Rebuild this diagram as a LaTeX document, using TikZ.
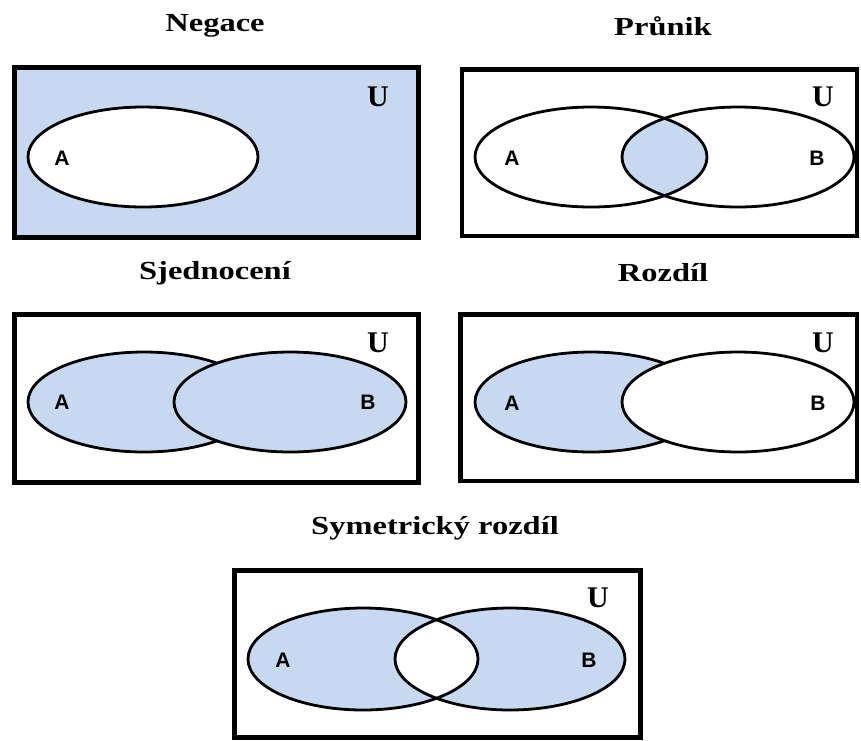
\documentclass[tikz,border=0pt]{standalone}
\usepackage{fontspec}
\setmainfont{Liberation Serif}
\newfontfamily\lblfont{Liberation Sans}
\definecolor{setblue}{RGB}{198,217,240}
\def\ttl#1{\scalebox{1.25}[1]{#1}}

\begin{document}
\begin{tikzpicture}[x=1pt, y=-1pt,
		frame/.style={line width=4.5pt},
		venn/.style={line width=2.8pt},
		title/.style={font=\fontsize{26}{30}\selectfont\bfseries, inner sep=0pt},
		unilbl/.style={font=\fontsize{30}{33}\selectfont\bfseries, inner sep=0pt},
		setlbl/.style={font=\lblfont\fontsize{21}{24}\selectfont\bfseries, inner sep=0pt}]
		%%%%% START %%%%%
		\useasboundingbox (0, 0) rectangle (861, 740);
		
		%%% Negace
		\node[title] (tNeg) at (215, 26) {\ttl{Negace}};
		\draw[frame, fill=setblue] (14.5, 67.5) rectangle (418.5, 237.5);
		\draw[venn, fill=white] (143, 157) ellipse [x radius=115, y radius=50];
		\node[setlbl] (aNeg) at (62, 158) {A};
		\node[unilbl] (uNeg) at (378, 97) {U};
		
		%%% Prunik
		\node[title] (tPru) at (663, 26) {\ttl{Průnik}};
		\draw[frame] (462, 69.5) rectangle (857, 236);
		\begin{scope}
			\clip (591, 157) ellipse [x radius=116, y radius=50];
			\fill[setblue] (738, 157) ellipse [x radius=116, y radius=50];
		\end{scope}
		\draw[venn] (591, 157) ellipse [x radius=116, y radius=50];
		\draw[venn] (738, 157) ellipse [x radius=116, y radius=50];
		\node[setlbl] (aPru) at (512, 158) {A};
		\node[setlbl] (bPru) at (817, 158) {B};
		\node[unilbl] (uPru) at (823, 97) {U};
		
		%%% Sjednoceni
		\node[title] (tSje) at (215, 273) {\ttl{Sjednocení}};
		\draw[frame] (14.5, 314.5) rectangle (418.5, 482.5);
		\draw[venn, fill=setblue] (144, 402) ellipse [x radius=116, y radius=50];
		\draw[venn, fill=setblue] (290, 402) ellipse [x radius=116, y radius=50];
		\node[setlbl] (aSje) at (62, 402) {A};
		\node[setlbl] (bSje) at (368, 402) {B};
		\node[unilbl] (uSje) at (378, 343) {U};
		
		%%% Rozdil
		\node[title] (tRoz) at (663, 273) {\ttl{Rozdíl}};
		\draw[frame] (460.5, 314.5) rectangle (857, 481);
		\draw[venn, fill=setblue] (591, 402) ellipse [x radius=116, y radius=50];
		\draw[venn, fill=white] (738, 402) ellipse [x radius=116, y radius=50];
		\node[setlbl] (aRoz) at (512, 403) {A};
		\node[setlbl] (bRoz) at (818, 403) {B};
		\node[unilbl] (uRoz) at (823, 343) {U};
		
		%%% Symetricky rozdil
		\node[title] (tSym) at (435, 528) {\ttl{Symetrický rozdíl}};
		\draw[frame] (234.5, 570.5) rectangle (640.5, 737.5);
		\fill[setblue, even odd rule] (363, 659) ellipse [x radius=115, y radius=51]
			(510, 659) ellipse [x radius=115, y radius=51];
		\draw[venn] (363, 659) ellipse [x radius=115, y radius=51];
		\draw[venn] (510, 659) ellipse [x radius=115, y radius=51];
		\node[setlbl] (aSym) at (283, 660) {A};
		\node[setlbl] (bSym) at (589, 660) {B};
		\node[unilbl] (uSym) at (598, 598) {U};
		%%%%% END %%%%%
\end{tikzpicture}
\end{document}
